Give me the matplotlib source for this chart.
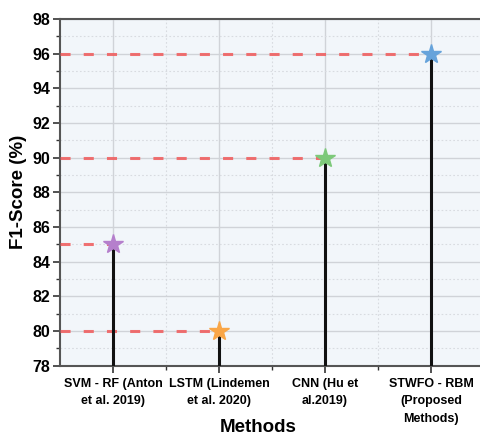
import matplotlib
matplotlib.use("Agg")
import matplotlib.pyplot as plt
from matplotlib.ticker import MultipleLocator, FixedLocator

methods = ["SVM - RF (Anton\net al. 2019)", "LSTM (Lindemen\net al. 2020)",
           "CNN (Hu et\nal.2019)", "STWFO - RBM\n(Proposed\nMethods)"]
f1_scores = [85, 80, 90, 96]
star_colors = ["#b57fcc", "#f9a647", "#7dc97a", "#66a3db"]

plt.rcParams['font.family'] = ['Liberation Sans', 'DejaVu Sans']
plt.rcParams['font.weight'] = 'bold'

fig = plt.figure(figsize=(4.81, 4.37), dpi=100)
ax = fig.add_axes([60/481, (437-365.5)/437, 421/481, (365.5-19)/437])
ax.set_facecolor("#f2f6fa")

xs = list(range(1, len(methods) + 1))
ymin = 78
for x, v, c in zip(xs, f1_scores, star_colors):
    ax.plot([0.5, x], [v, v], color="#f05a5a", lw=2.2, dashes=(3.3, 4.3), alpha=0.85, zorder=3)
    ax.plot([x, x], [ymin, v], color="#111111", lw=2.2, zorder=4)
    ax.plot([x], [v], marker="*", ms=15, color=c, markeredgecolor=c, zorder=5)

ax.set_xlim(0.5, 0.5 + 421/106)
ax.set_ylim(78, 98)
ax.set_xticks(xs)
ax.set_xticklabels(methods, fontsize=9, fontweight='bold', linespacing=1.6)
ax.xaxis.set_minor_locator(FixedLocator([1.5, 2.5, 3.5]))
ax.yaxis.set_major_locator(MultipleLocator(2))
ax.yaxis.set_minor_locator(MultipleLocator(1))
for lab in ax.get_yticklabels():
    lab.set_fontsize(11.5)
    lab.set_fontweight('bold')

ax.tick_params(axis='both', which='major', direction='out', length=5, width=1.2, color="#333333")
ax.tick_params(axis='both', which='minor', direction='out', length=3, width=1.0, color="#333333")
ax.tick_params(axis='y', labelsize=11.5, pad=2)
ax.tick_params(axis='x', pad=4)

ax.grid(which='major', color="#d0d3d8", lw=1.0, zorder=0)
ax.grid(which='minor', color="#d8dbe0", lw=0.8, ls=(0, (1.5, 2)), zorder=0)
ax.set_axisbelow(True)

for s in ['top', 'left', 'bottom']:
    ax.spines[s].set_color("#555555")
    ax.spines[s].set_linewidth(1.5)
ax.spines['right'].set_visible(False)

ax.set_ylabel("F1-Score (%)", fontsize=13.5, fontweight='bold', labelpad=4)
ax.set_xlabel("Methods", fontsize=13.5, fontweight='bold', va='center')
ax.xaxis.set_label_coords((258.5 - 60) / 421, (365.5 - 428) / 346.5)

fig.savefig("out.png", dpi=100)
